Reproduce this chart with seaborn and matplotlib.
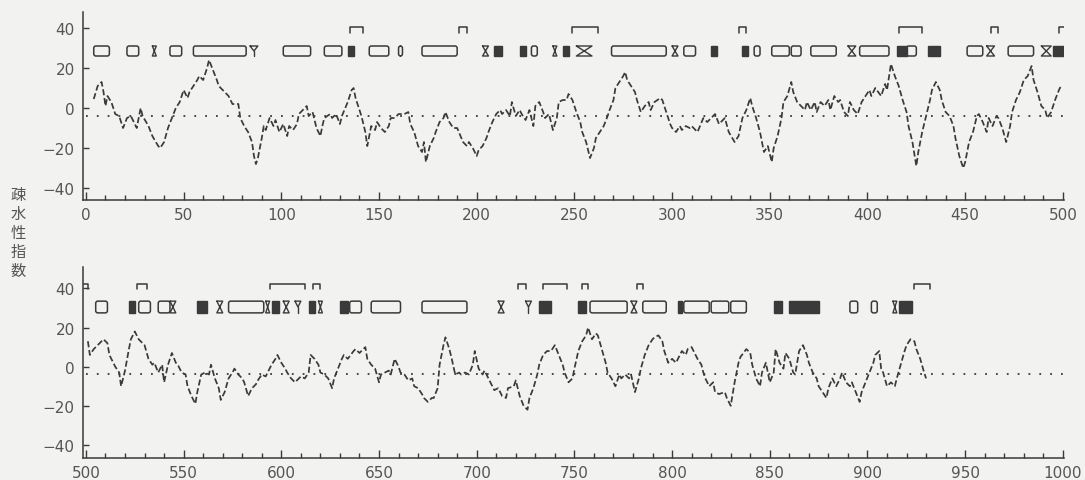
import matplotlib
matplotlib.use("Agg")
import matplotlib.pyplot as plt
from matplotlib.patches import FancyBboxPatch, Rectangle
import seaborn as sns
import pandas as pd

# Hydropathy profile, residues 1-500
res_a = [4, 6, 8, 9, 10, 11, 13, 15, 17, 19, 21, 23, 26, 28, 29, 32, 34, 37, 38, 40,
         42, 44, 46, 48, 50, 52, 53, 55, 57, 58, 60, 62, 63, 65, 67, 68, 70, 73, 75, 78,
         79, 81, 83, 85, 86, 87, 88, 90, 91, 92, 94, 96, 97, 99, 101, 103, 104, 106, 108, 109,
         111, 113, 114, 116, 118, 120, 121, 122, 125, 126, 128, 130, 131, 134, 136, 137, 138, 141, 143, 144,
         146, 148, 149, 151, 153, 155, 156, 158, 160, 163, 165, 166, 168, 170, 172, 173, 174, 176, 178, 179,
         181, 183, 184, 186, 188, 190, 193, 195, 196, 198, 200, 201, 203, 205, 206, 208, 210, 212, 213, 215,
         217, 218, 220, 222, 223, 225, 227, 229, 230, 232, 234, 235, 237, 239, 241, 242, 244, 246, 247, 249,
         251, 253, 254, 256, 258, 260, 261, 263, 265, 267, 268, 270, 271, 273, 275, 276, 277, 279, 281, 282,
         284, 286, 288, 289, 291, 294, 295, 297, 299, 300, 302, 304, 305, 307, 309, 310, 313, 316, 318, 319,
         322, 324, 327, 329, 332, 334, 336, 338, 340, 341, 343, 345, 347, 349, 351, 352, 354, 356, 357, 359,
         361, 362, 364, 366, 368, 369, 371, 373, 374, 376, 378, 380, 381, 383, 385, 386, 388, 390, 391, 393,
         395, 397, 399, 401, 402, 404, 407, 409, 410, 412, 414, 416, 418, 420, 421, 423, 425, 426, 428, 430,
         432, 433, 435, 437, 438, 440, 442, 444, 445, 447, 449, 450, 452, 454, 456, 457, 459, 461, 462, 464,
         466, 467, 469, 471, 473, 474, 476, 478, 480, 482, 484, 485, 487, 489, 491, 492, 494, 496, 498, 499]
hyd_a = [4.5, 11, 13, 8, 1, 6, 3, -3, -4, -10, -5, -4, -10, 0, -4, -9, -14, -19, -20, -17,
         -10, -5, 0, 3, 9, 5, 8, 11, 14, 16, 14, 20, 24, 19, 14, 11, 9, 6, 2, 2,
         -5, -9, -12, -17, -24, -28, -25, -15, -9, -11, -5, -9, -6, -12, -8, -14, -9, -11, -8, -3,
         -1, 1, -4, -2, -10, -14, -9, -5, -3, -5, -3, -8, -4, 3, 9, 10, 5, -4, -12, -19,
         -9, -11, -7, -10, -12, -9, -5, -5, -3, -3, -2, -8, -12, -19, -22, -17, -27, -19, -15, -12,
         -7, -5, -2, -7, -10, -10, -17, -19, -17, -20, -24, -21, -19, -15, -12, -7, -3, -1, -3, -1,
         -4, 3, -4, -1, -3, -6, -1, -9, 1, 3, -2, -5, -3, -11, -5, 3, 4, 4, 7, 4,
         -2, -7, -12, -17, -25, -20, -15, -12, -9, -4, -1, 4, 10, 13, 16, 18, 14, 11, 8, 4,
         -2, 1, 3, -1, 3, 5, 4, -2, -8, -10, -12, -9, -11, -9, -10, -9, -12, -5, -7, -6,
         -3, -8, -5, -12, -17, -14, -5, -1, 5, 1, -5, -12, -22, -19, -27, -20, -14, -5, 3, 6,
         13, 8, 3, 1, -1, 3, -1, 3, -2, 3, 1, 4, -1, 6, 3, 4, -2, -4, 3, -1,
         -3, 3, 6, 9, 6, 10, 6, 12, 9, 22, 16, 11, 4, -2, -9, -17, -29, -22, -12, -4,
         4, 9, 13, 9, 4, -2, -4, -9, -15, -24, -30, -27, -17, -12, -4, -3, -7, -12, -5, -9,
         -4, -5, -10, -17, -9, -2, 4, 8, 14, 16, 21, 14, 8, 1, -1, -5, -2, 4, 9, 11]

# Hydropathy profile, residues 501-930
res_b = [501, 502, 504, 506, 509, 511, 512, 515, 517, 518, 520, 522, 523, 525, 527, 528, 530, 532, 534, 535,
         537, 539, 540, 542, 544, 546, 547, 549, 551, 552, 554, 556, 557, 559, 561, 563, 564, 566, 568, 569,
         571, 573, 575, 576, 578, 580, 581, 583, 585, 587, 588, 590, 592, 593, 595, 597, 598, 600, 602, 603,
         605, 607, 609, 610, 612, 614, 615, 617, 619, 620, 622, 624, 626, 627, 629, 631, 632, 634, 637, 638,
         640, 643, 644, 646, 648, 650, 651, 653, 655, 656, 658, 660, 661, 663, 665, 667, 668, 670, 672, 673,
         675, 677, 678, 680, 681, 683, 684, 686, 687, 689, 691, 692, 694, 696, 698, 699, 701, 703, 704, 706,
         708, 709, 711, 713, 715, 716, 719, 720, 722, 724, 726, 727, 729, 731, 732, 734, 736, 738, 740, 742,
         744, 745, 747, 749, 750, 752, 754, 756, 757, 759, 761, 762, 764, 766, 767, 769, 771, 773, 774, 776,
         778, 779, 781, 783, 784, 786, 788, 790, 791, 793, 795, 796, 798, 800, 802, 803, 805, 807, 808, 810,
         812, 813, 815, 816, 817, 819, 821, 822, 824, 827, 828, 830, 832, 834, 835, 838, 840, 841, 843, 845,
         846, 848, 850, 852, 853, 855, 857, 858, 860, 862, 863, 865, 867, 869, 870, 872, 874, 875, 877, 879,
         880, 882, 884, 886, 887, 889, 891, 892, 894, 896, 897, 899, 901, 903, 904, 906, 907, 908, 910, 912,
         914, 915, 917, 919, 920, 922, 924, 925, 927, 929, 930]
hyd_b = [13, 6, 9, 11, 14, 12, 6, 0, -3, -10, -2, 9, 14, 18, 14, 13, 11, 4, 1, 2,
         -3, 1, -8, 1, 7, 2, 1, -3, -4, -10, -15, -19, -13, -4, -3, -4, 1, -6, -11, -17,
         -13, -6, -3, -1, -4, -6, -8, -15, -11, -9, -7, -4, -5, -3, 1, 4, 6, 2, -1, -3,
         -6, -8, -6, -5, -6, -3, 6, 4, 1, -3, -4, -6, -11, -6, -1, 4, 6, 4, 8, 9,
         7, 10, 4, 1, -1, -8, -4, -3, -2, -4, 4, 0, -3, -4, -7, -6, -10, -11, -14, -16,
         -18, -16, -16, -11, 1, 11, 15, 9, 5, -4, -3, -4, -3, -4, 1, 8, -1, -4, -2, -6,
         -10, -12, -11, -15, -16, -11, -10, -7, -15, -20, -22, -16, -11, -4, 1, 6, 8, 8, 11, 6,
         1, -3, -8, -6, -1, 8, 13, 16, 20, 14, 17, 16, 9, 2, -3, -6, -10, -4, -6, -4,
         -6, -4, -13, -6, -1, 6, 11, 14, 15, 16, 13, 8, 2, 4, 2, 4, 8, 6, 9, 10,
         6, 4, 1, -3, -6, -10, -8, -13, -14, -13, -16, -20, -8, 2, 5, 9, 7, 1, -6, -10,
         -3, 2, -8, -3, 9, 2, -1, 7, 4, -3, -4, 8, 11, 6, 2, -3, -6, -10, -13, -16,
         -11, -6, -10, -6, -3, -8, -10, -8, -13, -18, -13, -8, -3, 2, 6, 8, -1, -3, -10, -8,
         -10, -6, 1, 8, 11, 14, 13, 9, 4, -3, -6]

# Secondary-structure predictions shown above each profile (residue spans)
helix_a = [(4, 12), (21, 27), (43, 49), (55, 82), (101, 115), (122, 131), (145, 155), (160, 162),
           (172, 190), (228, 231), (269, 297), (306, 312), (342, 345), (351, 360), (361, 366),
           (371, 384), (396, 411), (420, 425), (451, 459), (472, 485)]
strand_a = [(134, 137), (209, 213), (222, 225), (244, 247), (320, 323), (336, 339), (415, 420),
            (431, 437), (495, 501)]
turn_a = [(34, 36), (203, 206), (239, 241), (251, 259), (300, 303), (390, 394), (461, 465), (489, 494)]
bend_a = [(84, 88)]
loop_a = [(135, 142), (191, 195), (249, 262), (334, 338), (416, 428), (463, 467), (498, 503)]

helix_b = [(505, 511), (527, 533), (537, 543), (573, 591), (635, 641), (646, 661), (672, 695),
           (758, 777), (785, 797), (806, 819), (820, 829), (830, 838), (891, 895), (902, 905)]
strand_b = [(522, 525), (557, 562), (595, 599), (614, 617), (630, 634), (732, 738), (752, 756),
            (803, 805), (852, 856), (860, 875), (916, 923)]
turn_b = [(543, 546), (567, 570), (592, 594), (601, 604), (619, 621), (711, 714), (779, 782),
          (913, 915)]
bend_b = [(607, 610), (725, 728)]
loop_b = [(497, 501), (526, 531), (594, 612), (616, 620), (721, 725), (734, 746), (754, 757),
          (782, 785), (924, 932)]

BASELINE = -4

INK = "#3a3a3a"
LABEL = "#555555"
BG = "#f2f2f0"

sns.set_theme(style="white")
plt.rcParams.update({
    "font.family": ["DejaVu Sans"],
    "axes.facecolor": BG,
    "figure.facecolor": BG,
    "savefig.facecolor": BG,
    "axes.edgecolor": INK,
    "xtick.color": INK,
    "ytick.color": INK,
    "xtick.labelcolor": LABEL,
    "ytick.labelcolor": LABEL,
})

fig = plt.figure(figsize=(10.85, 4.81), dpi=100)
ax_top = fig.add_axes([0.0765, 0.582, 0.904, 0.391])
ax_bot = fig.add_axes([0.0765, 0.0457, 0.904, 0.3973])


def draw_panel(ax, res, hyd, x0, ylim, helix, strand, turn, bend, loop, yc, hh, yb):
    df = pd.DataFrame({"residue": res, "hydropathy": hyd})
    sns.lineplot(data=df, x="residue", y="hydropathy", ax=ax, estimator=None, sort=True,
                 color=INK, lw=1.25, linestyle=(0, (3.5, 1.6)))
    ax.plot([x0, x0 + 500], [BASELINE, BASELINE], color=INK, lw=1.3,
            linestyle=(0, (1.0, 5.0)))

    top, bot = yc + hh / 2, yc - hh / 2
    for s, e in helix:
        ax.add_patch(FancyBboxPatch((s, bot), e - s, hh,
                                    boxstyle="round,pad=0,rounding_size=1.1",
                                    fill=False, ec=INK, lw=1.1))
    for s, e in strand:
        ax.add_patch(Rectangle((s, bot), e - s, hh, fc=INK, ec=INK, lw=1.0))
    for s, e in turn:
        ax.plot([s, e, s, e, s], [top, top, bot, bot, top], color=INK, lw=1.0)
    for s, e in bend:
        m = (s + e) / 2
        ax.plot([s, e, m, s], [top, top, yc, top], color=INK, lw=1.0)
        ax.plot([m, m], [yc, bot], color=INK, lw=1.0)
    for s, e in loop:
        ax.plot([s, s, e, e], [yb - 2.6, yb, yb, yb - 2.6], color=INK, lw=1.1)

    ax.set_xlim(x0 - 1.5, x0 + 500.5)
    ax.set_ylim(*ylim)
    ax.set_xticks(range(x0, x0 + 501, 50))
    ax.set_xticks(range(x0, x0 + 501, 10), minor=True)
    ax.set_yticks([-40, -20, 0, 20, 40])
    ax.set_yticklabels(["\u221240", "\u221220", "0", "20", "40"])
    ax.tick_params(axis="x", which="major", direction="in", length=6, width=1,
                   labelsize=11, pad=5)
    ax.tick_params(axis="x", which="minor", direction="in", length=3.5, width=1)
    ax.tick_params(axis="y", which="major", direction="in", length=4, width=1,
                   labelsize=11, pad=6)
    ax.tick_params(bottom=True, left=True, which="both")
    for side in ("top", "right"):
        ax.spines[side].set_visible(False)
    for side in ("left", "bottom"):
        ax.spines[side].set_linewidth(1.1)
    ax.set_xlabel("")
    ax.set_ylabel("")


draw_panel(ax_top, res_a, hyd_a, 0, (-46, 48), helix_a, strand_a, turn_a, bend_a, loop_a,
           yc=28.5, hh=5.0, yb=40.3)
draw_panel(ax_bot, res_b, hyd_b, 500, (-46.7, 51), helix_b, strand_b, turn_b, bend_b, loop_b,
           yc=30.5, hh=6.0, yb=42.3)

fig.text(0.0166, 0.515, "\n".join("疎水性指数"), ha="center", va="center", fontsize=11,
         color=LABEL, linespacing=1.15, family=["Noto Sans CJK JP", "DejaVu Sans"])

fig.savefig("out.png", dpi=100)
